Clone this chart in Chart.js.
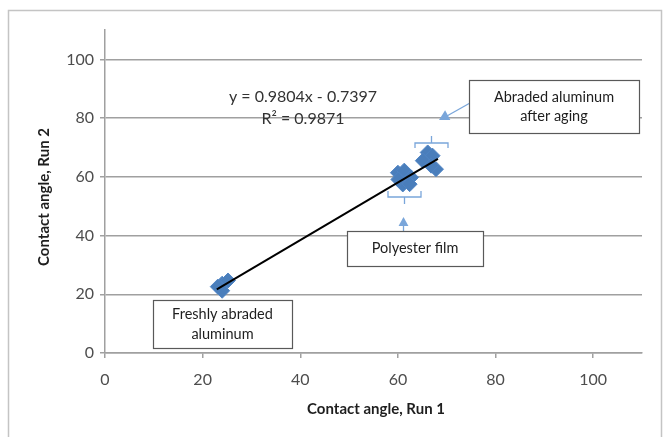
<!DOCTYPE html>
<html>
<head>
<meta charset="utf-8">
<script src="https://cdn.jsdelivr.net/npm/chart.js@4.4.0/dist/chart.umd.min.js"></script>
<style>
  html, body { margin: 0; padding: 0; background: #fff; }
  canvas { display: block; }
</style>
</head>
<body>
<canvas id="scatter" width="671" height="437"></canvas>
<script>
// contact angles (run 1 = x, run 2 = y)
const run1 = [24.0, 25.2, 23.1, 24.0, 60.0, 61.3, 62.7, 61.0, 62.4, 60.1, 66.1, 67.1, 65.1, 67.8, 66.8];
const run2 = [23.6, 24.7, 22.6, 21.2, 61.4, 62.1, 59.8, 57.4, 57.5, 59.1, 68.3, 67.2, 65.5, 62.6, 63.8];
// linear trendline end points
const trendX = [22.9, 68.2];
const trendY = [21.7, 66.1];
const xTicks = [0, 20, 40, 60, 80, 100];
const yTicks = [0, 20, 40, 60, 80, 100];
const fitLabel = ['y = 0.9804x - 0.7397', 'R² = 0.9871'];
const xTitle = 'Contact angle, Run 1';
const yTitle = 'Contact angle, Run 2';

const FONT = 'Lato, "Open Sans", sans-serif';

function box(c, x, y, w, h, lines, lineGap) {
    c.fillStyle = '#fff';
    c.fillRect(x, y, w, h);
    c.strokeStyle = '#595959';
    c.lineWidth = 1.2;
    c.strokeRect(x + 0.5, y + 0.5, w, h);
    c.fillStyle = '#1e1e1e';
    c.font = '14.5px ' + FONT;
    c.textAlign = 'center';
    c.textBaseline = 'middle';
    const cy = y + h / 2 - (lines.length - 1) * lineGap / 2;
    lines.forEach((t, i) => c.fillText(t, x + w / 2, cy + i * lineGap));
}

function arrowHead(c, x, y, angle, size) {
    c.save();
    c.translate(x, y);
    c.rotate(angle);
    c.beginPath();
    c.moveTo(0, 0);
    c.lineTo(size, -size * 0.55);
    c.lineTo(size, size * 0.55);
    c.closePath();
    c.fill();
    c.restore();
}

const decor = {
    id: 'decor',
    beforeDraw(chart) {
        const c = chart.ctx;
        c.save();
        c.strokeStyle = '#c4c4c4';
        c.lineWidth = 1.5;
        c.beginPath();
        c.moveTo(8.5, 437);
        c.lineTo(8.5, 10.5);
        c.lineTo(661.5, 10.5);
        c.lineTo(661.5, 437);
        c.stroke();
        c.restore();
    },
    afterDraw(chart) {
        const c = chart.ctx;
        c.save();

        // axis titles
        c.fillStyle = '#1e1e1e';
        c.font = 'bold 15px ' + FONT;
        c.textAlign = 'center';
        c.textBaseline = 'middle';
        c.fillText(xTitle, 376, 409);
        c.save();
        c.translate(44, 197);
        c.rotate(-Math.PI / 2);
        c.fillText(yTitle, 0, 0);
        c.restore();

        // trendline label
        c.fillStyle = '#333';
        c.font = '16px ' + FONT;
        c.fillText(fitLabel[0], 303, 97);
        c.fillText(fitLabel[1], 303, 119);

        // callouts
        const blue = '#7aa6da';
        c.strokeStyle = blue;
        c.fillStyle = blue;
        c.lineWidth = 1.3;

        // bracket above upper cluster
        c.beginPath();
        c.moveTo(415, 148); c.lineTo(415, 143); c.lineTo(448, 143); c.lineTo(448, 148);
        c.moveTo(431.5, 143); c.lineTo(431.5, 136);
        c.stroke();
        // bracket below middle cluster
        c.beginPath();
        c.moveTo(388, 191); c.lineTo(388, 197); c.lineTo(421, 197); c.lineTo(421, 191);
        c.moveTo(404.5, 197); c.lineTo(404.5, 204);
        c.stroke();

        // arrow to "after aging" box
        c.beginPath();
        c.moveTo(470, 103); c.lineTo(446, 116.5);
        c.stroke();
        arrowHead(c, 439, 120, Math.atan2(103 - 120, 470 - 439), 10);

        // arrow to polyester box
        c.beginPath();
        c.moveTo(403.5, 232); c.lineTo(403.5, 224);
        c.stroke();
        arrowHead(c, 403.5, 217, Math.PI / 2, 9);

        box(c, 469, 80, 170, 53, ['Abraded aluminum', 'after aging'], 19);
        box(c, 347, 231, 136, 35, ['Polyester film'], 19);
        box(c, 153, 300, 139, 48, ['Freshly abraded', 'aluminum'], 20);

        c.restore();
    }
};

new Chart(document.getElementById('scatter'), {
    type: 'scatter',
    data: {
        datasets: [{
            type: 'line',
            data: trendX.map((x, i) => ({ x: x, y: trendY[i] })),
            borderColor: '#000',
            borderWidth: 2,
            pointRadius: 0,
            fill: false
        }, {
            data: run1.map((x, i) => ({ x: x, y: run2[i] })),
            pointStyle: 'rectRot',
            pointRadius: 7.5,
            backgroundColor: '#4a7ebb',
            borderColor: '#4f84c4',
            borderWidth: 1
        }]
    },
    options: {
        responsive: false,
        animation: false,
        layout: { padding: { left: 0, top: 30, right: 29, bottom: 0 } },
        plugins: { legend: { display: false }, tooltip: { enabled: false } },
        scales: {
            x: {
                type: 'linear',
                min: 0,
                max: 110,
                afterBuildTicks: s => { s.ticks = xTicks.map(v => ({ value: v })); },
                afterFit: s => { s.height = 84; },
                grid: { drawOnChartArea: false, drawTicks: true, tickLength: 5, color: '#a0a0a0', lineWidth: 1.5 },
                border: { color: '#a0a0a0', width: 1.5 },
                ticks: { color: '#4d4d4d', font: { family: FONT, size: 16 }, padding: 12, maxRotation: 0 }
            },
            y: {
                type: 'linear',
                min: 0,
                max: 110,
                afterBuildTicks: s => { s.ticks = yTicks.map(v => ({ value: v })); },
                afterFit: s => { s.width = 105; },
                grid: { color: '#a0a0a0', lineWidth: 1.5, tickLength: 5 },
                border: { color: '#a0a0a0', width: 1.5 },
                ticks: { color: '#4d4d4d', font: { family: FONT, size: 16 }, padding: 6 }
            }
        }
    },
    plugins: [decor]
});
</script>
</body>
</html>
